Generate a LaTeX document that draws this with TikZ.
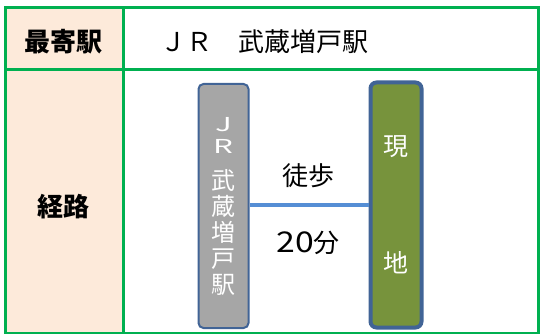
\documentclass[tikz,border=0pt]{standalone}
\usepackage{fontspec}
\setmainfont{Noto Sans CJK JP}
\usetikzlibrary{positioning}

\definecolor{gridgreen}{RGB}{0,176,80}
\definecolor{headfill}{RGB}{253,234,218}
\definecolor{stationgray}{RGB}{166,166,166}
\definecolor{sitegreen}{RGB}{119,147,60}
\definecolor{boxblue}{RGB}{65,100,150}
\definecolor{walkblue}{RGB}{85,142,213}

\begin{document}
\begin{tikzpicture}[x=1pt,y=-1pt]
\useasboundingbox (0,0) rectangle (541,334);

% Define block styles
\tikzstyle{grid} = [draw=gridgreen, line width=3pt]
\tikzstyle{head} = [font=\fontsize{26}{30}\selectfont\bfseries, inner sep=0pt]
\tikzstyle{body} = [font=\fontsize{26}{30}\selectfont, inner sep=0pt]
\tikzstyle{station} = [rectangle, rounded corners=5pt, draw=boxblue, line width=2pt,
    fill=stationgray, minimum width=50pt, minimum height=244pt, text=white,
    align=center, font=\fontsize{24}{26}\selectfont]
\tikzstyle{site} = [rectangle, rounded corners=6pt, draw=boxblue, line width=4pt,
    fill=sitegreen, minimum width=51pt, minimum height=245pt, text=white,
    align=center, font=\fontsize{25}{26}\selectfont]
\tikzstyle{walk} = [draw=walkblue, line width=4pt]

% table
\fill[headfill] (5,8) rectangle (123,334);
\draw[grid] (5,8) rectangle (538,333.5);
\draw[grid] (123,8) -- (123,334);
\draw[grid] (5,70) -- (538,70);

\node[head] (nearest) at (63,42)  {最寄駅};
\node[body, anchor=west] (station name) at (160,42) {ＪＲ　武蔵増戸駅};
\node[head] (route) at (63,207) {経路};

% route
\node[station] (jr)   at (223.5,206) {\scalebox{1.3}[0.8]{J}\\[-4pt]\scalebox{1.3}[0.8]{R}\\[10pt]武\\蔵\\増\\戸\\駅};
\node[site]    (site) at (396,205)   {現\\[91pt]地};

\path[walk] (jr.east |- site.west) -- (site.west);
\node[body] (walking) at (308,176) {徒歩};
\node[body] (minutes) at (308,243) {\scalebox{1.3}[1.1]{20}分};

\end{tikzpicture}
\end{document}
